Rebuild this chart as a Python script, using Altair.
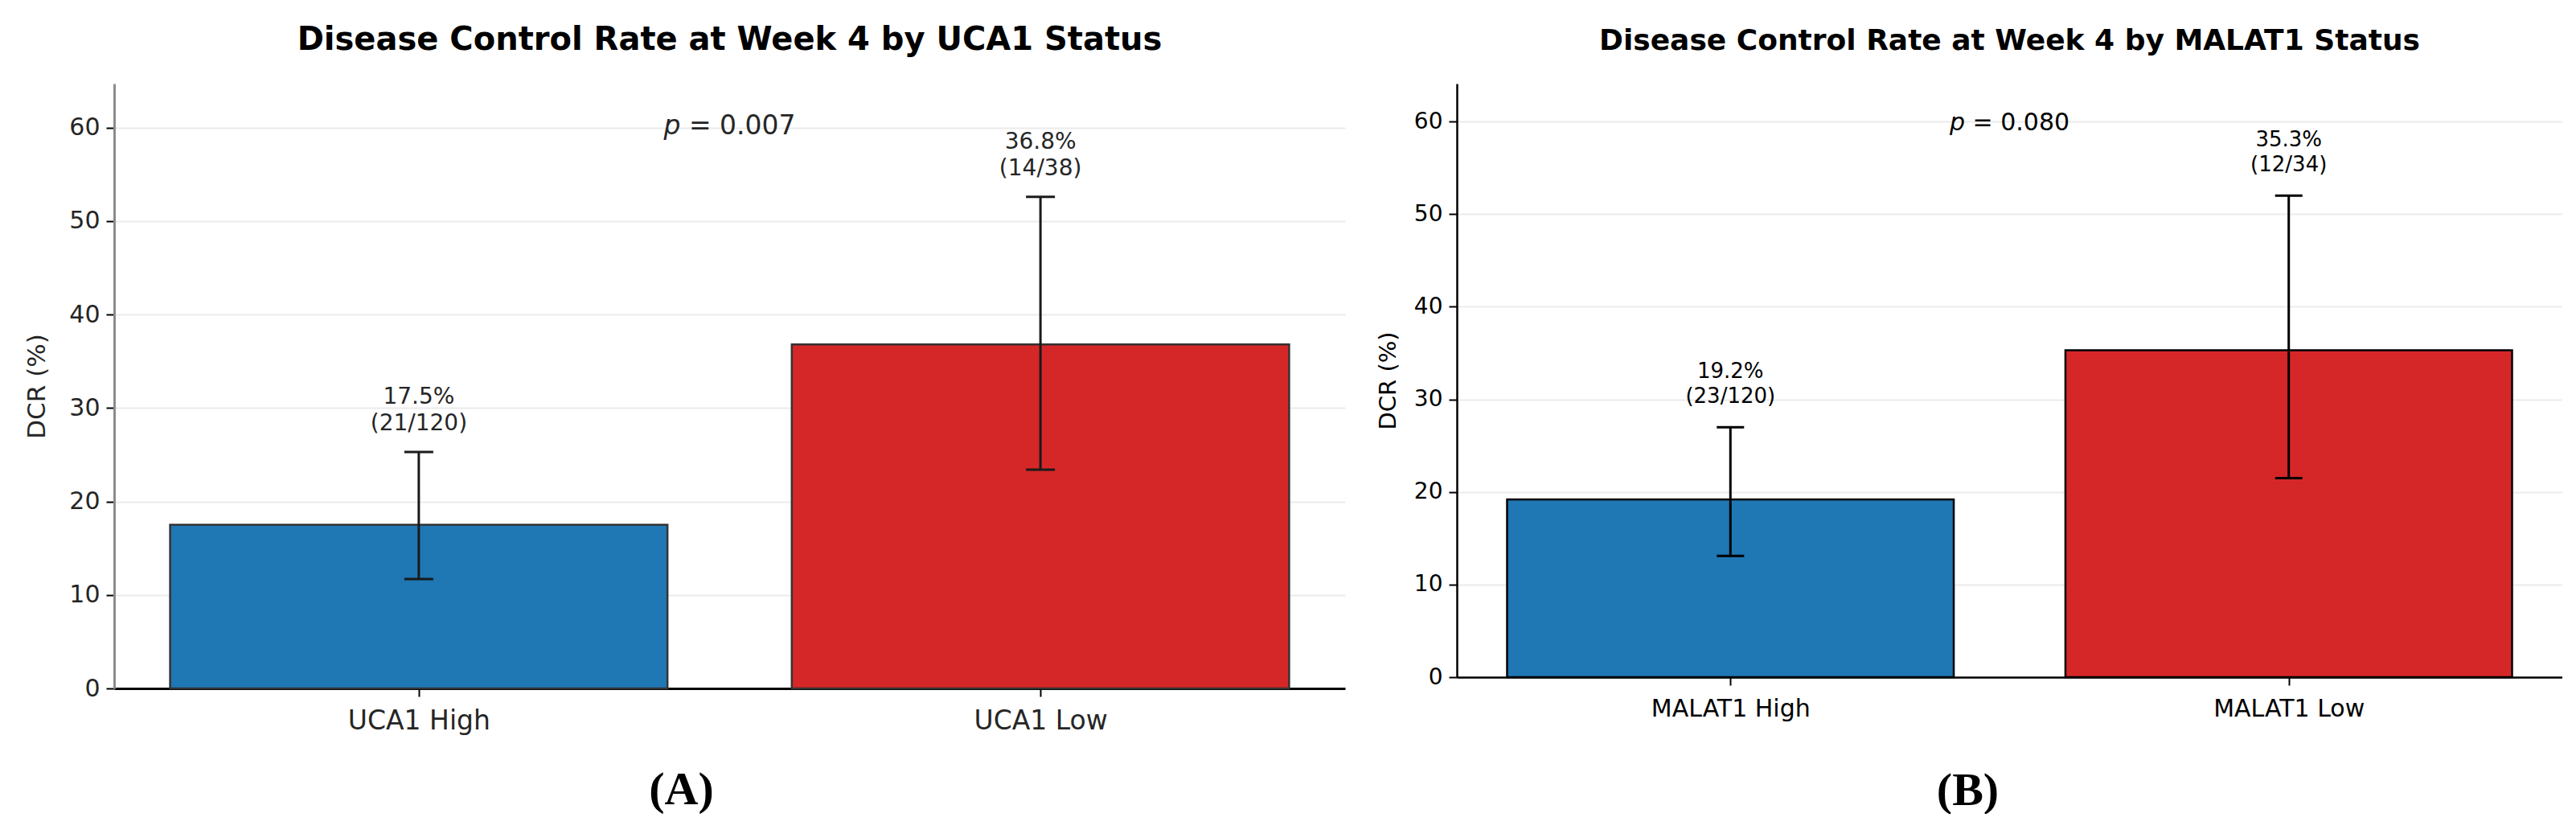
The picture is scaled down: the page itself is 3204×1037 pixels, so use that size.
import altair as alt
import pandas as pd

# ---------------- data ----------------
uca1_cats = ["UCA1 High", "UCA1 Low"]
uca1_dcr = [17.5, 36.8]
uca1_ci_low = [11.7, 23.4]
uca1_ci_high = [25.3, 52.6]
uca1_success = [21, 14]
uca1_total = [120, 38]
uca1_p = "0.007"
uca1_ymax = 64.7

malat1_cats = ["MALAT1 High", "MALAT1 Low"]
malat1_dcr = [19.2, 35.3]
malat1_ci_low = [13.1, 21.5]
malat1_ci_high = [27.0, 52.0]
malat1_success = [23, 12]
malat1_total = [120, 34]
malat1_p = "0.080"
malat1_ymax = 64.1

y_ticks = [0, 10, 20, 30, 40, 50, 60]
bar_colors = ["#1f77b4", "#d62728"]


def panel(cats, dcr, lo, hi, k, n, p, ymax, title, tag, s):
    df = pd.DataFrame({
        "idx": list(range(len(cats))),
        "cat": cats,
        "dcr": dcr,
        "lo": lo,
        "hi": hi,
        "label": [f"{v:.1f}%\n({a}/{b})" for v, a, b in zip(dcr, k, n)],
    })
    xs = alt.Scale(domain=[-0.49, len(cats) - 1 + 0.49], nice=False, zero=False)
    ys = alt.Scale(domain=[0, ymax], nice=False)
    label_expr = "[" + ",".join(f"'{c}'" for c in cats) + "][datum.value]"
    xaxis = alt.Axis(
        values=list(range(len(cats))), labelExpr=label_expr, grid=False,
        tickSize=10, tickWidth=2, tickColor="black", labelPadding=s["xlp"],
        labelFontSize=s["tick"], labelColor=s["text"], labelFont="DejaVu Sans",
        labelLimit=600,
        domainColor="black", domainWidth=s["xdom"],
        title=tag, titleFont="Liberation Serif", titleFontWeight="bold",
        titleFontSize=58, titleColor="black", titlePadding=s["tagpad"],
        titleX=s["tagx"], titleAlign="center", titleAnchor="start",
    )
    yaxis = alt.Axis(
        values=y_ticks, grid=True, gridColor="#ebebeb", gridWidth=2,
        tickSize=10, tickWidth=2, tickColor="black", labelPadding=8,
        labelFontSize=s["ytick"], labelColor=s["text"], labelFont="DejaVu Sans",
        domainColor=s["ydomc"], domainWidth=s["ydom"],
        title="DCR (%)", titleFont="DejaVu Sans", titleFontWeight="normal",
        titleFontSize=s["ytitle"], titleColor=s["text"], titleX=s["ytx"],
        titleBaseline="middle",
    )
    base = alt.Chart(df)
    bars = base.transform_calculate(
        x0="datum.idx - 0.4", x1="datum.idx + 0.4"
    ).mark_rect(stroke=s["edge"], strokeWidth=2.5).encode(
        x=alt.X("x0:Q", scale=xs, axis=xaxis),
        x2="x1:Q",
        y=alt.Y("dcr:Q", scale=ys, axis=yaxis),
        y2=alt.datum(0),
        color=alt.Color("cat:N", scale=alt.Scale(domain=cats, range=bar_colors), legend=None),
    )
    err = base.mark_rule(color=s["err"], strokeWidth=3).encode(
        x=alt.X("idx:Q", scale=xs, axis=xaxis),
        y=alt.Y("lo:Q", scale=ys, axis=yaxis),
        y2="hi:Q",
    )
    cap_hi = base.mark_rule(color=s["err"], strokeWidth=3, xOffset=-s["cap"], x2Offset=s["cap"]).encode(
        x=alt.X("idx:Q", scale=xs, axis=xaxis), x2="idx:Q",
        y=alt.Y("hi:Q", scale=ys, axis=yaxis),
    )
    cap_lo = base.mark_rule(color=s["err"], strokeWidth=3, xOffset=-s["cap"], x2Offset=s["cap"]).encode(
        x=alt.X("idx:Q", scale=xs, axis=xaxis), x2="idx:Q",
        y=alt.Y("lo:Q", scale=ys, axis=yaxis),
    )
    ann = base.mark_text(
        baseline="bottom", align="center", dy=s["anndy"], lineBreak="\n",
        lineHeight=s["ann"] * 1.18, fontSize=s["ann"], font="DejaVu Sans", color=s["text"],
    ).encode(
        x=alt.X("idx:Q", scale=xs, axis=xaxis),
        y=alt.Y("hi:Q", scale=ys, axis=yaxis),
        text="label:N",
    )
    f = s["p"]
    pbase = base.transform_aggregate(xm="mean(idx)")
    p_italic = pbase.mark_text(
        text="p", fontStyle="italic", align="left", baseline="alphabetic",
        dx=-2.4855 * f, dy=s["pdy"], fontSize=f, font="DejaVu Sans", color=s["text"],
    ).encode(x=alt.X("xm:Q", scale=xs, axis=xaxis), y=alt.datum(y_ticks[-1]))
    p_rest = pbase.mark_text(
        text=f"= {p}", align="left", baseline="alphabetic",
        dx=-1.5325 * f, dy=s["pdy"], fontSize=f, font="DejaVu Sans", color=s["text"],
    ).encode(x=alt.X("xm:Q", scale=xs, axis=xaxis), y=alt.datum(y_ticks[-1]))

    return alt.layer(bars, err, cap_hi, cap_lo, ann, p_italic, p_rest).properties(
        width=s["w"], height=s["h"],
        title=alt.TitleParams(
            text=title, font="DejaVu Sans", fontWeight="bold", fontSize=s["title"],
            color="black", anchor="middle", offset=s["toff"], dy=s["tdy"],
        ),
    )


left_style = dict(w=1531, h=752, tick=33, ytick=30, text="#262626", xdom=3, ydom=3,
                  ydomc="#8c8c8c", edge="#333333", err="#1a1a1a", ytitle=31, ytx=-96,
                  xlp=14, tagpad=40, tagx=705, cap=18, ann=28, anndy=-54, p=33, pdy=8,
                  title=40, toff=44, tdy=10)
right_style = dict(w=1375, h=738, tick=30, ytick=28, text="black", xdom=2.5, ydom=2.5,
                   ydomc="black", edge="black", err="black", ytitle=29, ytx=-86,
                   xlp=14, tagpad=58, tagx=635, cap=17, ann=26, anndy=-56, p=30, pdy=11,
                   title=36, toff=34, tdy=0)

left = panel(uca1_cats, uca1_dcr, uca1_ci_low, uca1_ci_high, uca1_success, uca1_total,
             uca1_p, uca1_ymax, "Disease Control Rate at Week 4 by UCA1 Status", "(A)", left_style)
right = panel(malat1_cats, malat1_dcr, malat1_ci_low, malat1_ci_high, malat1_success, malat1_total,
              malat1_p, malat1_ymax, "Disease Control Rate at Week 4 by MALAT1 Status", "(B)", right_style)

chart = alt.hconcat(left, right, spacing=39).properties(
    padding={"left": 22, "top": 22, "right": 0, "bottom": 0},
    background="white",
).configure_view(stroke=None)

chart.save("out.html", embed_options={"renderer": "svg", "actions": False})
